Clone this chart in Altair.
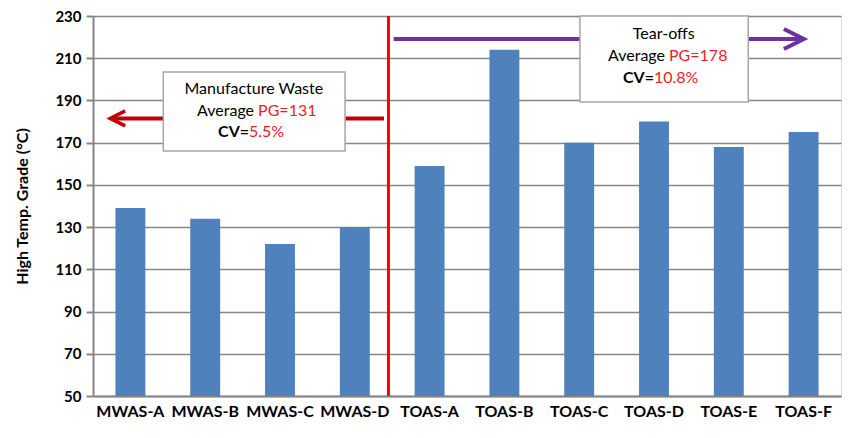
import altair as alt
import pandas as pd

# ---- data ----
categories = ["MWAS-A", "MWAS-B", "MWAS-C", "MWAS-D",
              "TOAS-A", "TOAS-B", "TOAS-C", "TOAS-D", "TOAS-E", "TOAS-F"]
values = [139, 134, 122, 130, 159, 214, 170, 180, 168, 175]
y_ticks = [50, 70, 90, 110, 130, 150, 170, 190, 210, 230]

# annotation geometry in (slot units 0..10, data units)
divider_x = [3.95]
arrow_x1 = [0.25, 4.02]
arrow_x2 = [3.89, 9.48]
arrow_y = [181.5, 219.1]
arrow_color = ["#C00000", "#7030A0"]
head_x = [0.33, 9.37]

box_x1 = [0.94, 6.51]
box_x2 = [3.37, 8.76]
box_y1 = [166.0, 189.3]
box_y2 = [203.5, 230.0]

title_lines = ["Manufacture Waste", "Tear-offs"]
title_x = [2.15, 7.63]
title_y = [195.4, 221.5]
avg_labels = ["Average", "Average"]
pg_labels = ["PG=131", "PG=178"]
avg_split_x = [2.18, 7.674]
avg_y = [185.0, 211.0]
cv_labels = ["CV=", "CV="]
cv_values = ["5.5%", "10.8%"]
cv_split_x = [2.086, 7.5]
cv_y = [175.0, 200.6]

FONT = "Lato"
BAR = "#4F81BD"
GRID = "#868686"
RED = "#EE1C25"

ydom = alt.Scale(domain=[50, 230], nice=False, zero=False)
xq = alt.Scale(domain=[0, 10], nice=False, zero=False)

bars_df = pd.DataFrame({"sample": categories, "pg": values})

bars = alt.Chart(bars_df).mark_bar(color=BAR, clip=True).encode(
    x=alt.X("sample:N", sort=categories,
            scale=alt.Scale(paddingInner=0.6, paddingOuter=0.3),
            axis=alt.Axis(title=None, labelAngle=0, labelFont=FONT,
                          labelFontWeight="bold", labelFontSize=16,
                          labelColor="black", ticks=False,
                          domainColor=GRID, domainWidth=2,
                          labelPadding=7, labelOverlap=False)),
    y=alt.Y("pg:Q", scale=ydom,
            axis=alt.Axis(values=y_ticks, title="High Temp. Grade (°C)",
                          titleFont=FONT, titleFontSize=16,
                          titleFontWeight="bold", titleColor="black",
                          titlePadding=24,
                          labelFont=FONT, labelFontSize=15,
                          labelFontWeight="bold", labelColor="black",
                          labelPadding=5,
                          tickColor=GRID, tickSize=7, tickWidth=2,
                          domainColor=GRID, domainWidth=2,
                          grid=True, gridColor=GRID, gridWidth=1.5)),
)

div_df = pd.DataFrame({"x": divider_x, "y": [50], "y2": [230]})
divider = alt.Chart(div_df).mark_rule(color="#FF0000", strokeWidth=3).encode(
    x=alt.X("x:Q", scale=xq, axis=None),
    y=alt.Y("y:Q", scale=ydom, axis=None),
    y2="y2:Q",
)

arr_df = pd.DataFrame({"x": arrow_x1, "x2": arrow_x2, "y": arrow_y,
                       "c": arrow_color, "hx": head_x})
arrows = alt.Chart(arr_df).mark_rule(strokeWidth=4).encode(
    x=alt.X("x:Q", scale=xq, axis=None),
    x2="x2:Q",
    y=alt.Y("y:Q", scale=ydom, axis=None),
    color=alt.Color("c:N", scale=None),
)
head_left = alt.Chart(arr_df.iloc[[0]]).mark_point(
    shape="M1,-1L-1,0L1,1", filled=False, strokeWidth=3.5, size=225,
    opacity=1, color=arrow_color[0], strokeJoin="miter").encode(
    x=alt.X("hx:Q", scale=xq, axis=None),
    y=alt.Y("y:Q", scale=ydom, axis=None),
)
head_right = alt.Chart(arr_df.iloc[[1]]).mark_point(
    shape="M-1,-1L1,0L-1,1", filled=False, strokeWidth=4, size=400,
    opacity=1, color=arrow_color[1], strokeJoin="miter").encode(
    x=alt.X("hx:Q", scale=xq, axis=None),
    y=alt.Y("y:Q", scale=ydom, axis=None),
)

box_df = pd.DataFrame({"x": box_x1, "x2": box_x2, "y": box_y1, "y2": box_y2})
boxes = alt.Chart(box_df).mark_rect(fill="white", stroke="#A6A6A6",
                                    strokeWidth=1.5).encode(
    x=alt.X("x:Q", scale=xq, axis=None), x2="x2:Q",
    y=alt.Y("y:Q", scale=ydom, axis=None), y2="y2:Q",
)

def text_layer(xs, ys, labels, align, color, weight="normal", dx=0):
    df = pd.DataFrame({"x": xs, "y": ys, "t": labels})
    return alt.Chart(df).mark_text(align=align, baseline="middle", font=FONT,
                                   fontSize=16, color=color,
                                   fontWeight=weight, dx=dx).encode(
        x=alt.X("x:Q", scale=xq, axis=None),
        y=alt.Y("y:Q", scale=ydom, axis=None),
        text="t:N",
    )

t_title = text_layer(title_x, title_y, title_lines, "center", "black")
t_avg = text_layer(avg_split_x, avg_y, avg_labels, "right", "black", dx=-2)
t_pg = text_layer(avg_split_x, avg_y, pg_labels, "left", RED, dx=2)
t_cv = text_layer(cv_split_x, cv_y, cv_labels, "right", "black", "bold", dx=0)
t_cvv = text_layer(cv_split_x, cv_y, cv_values, "left", RED, dx=0)

chart = alt.layer(
    bars, divider, arrows, head_left, head_right, boxes,
    t_title, t_avg, t_pg, t_cv, t_cvv
).resolve_scale(x="independent").resolve_axis(y="independent").properties(
    width=748, height=380,
    padding={"left": 85, "top": 8, "right": 2, "bottom": 34},
    autosize=alt.AutoSizeParams(type="none"),
).configure_view(stroke="#4A7EBB", strokeWidth=1).configure(background="white")

chart.save("out.html", embed_options={"renderer": "svg", "actions": False})
